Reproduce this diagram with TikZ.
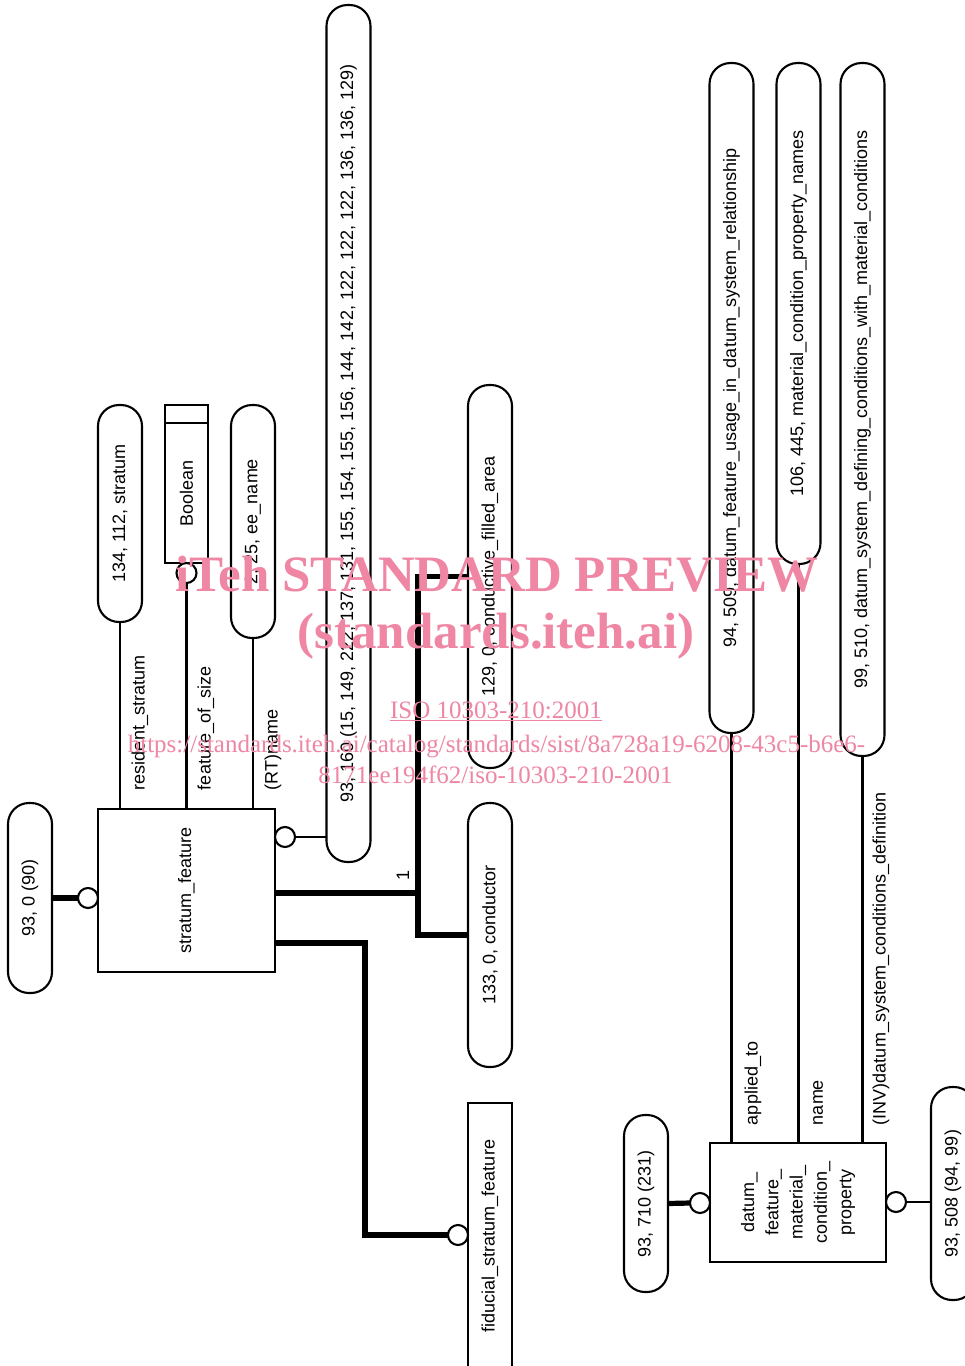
\documentclass[tikz,border=0pt]{standalone}
\usepackage{fontspec}
\setmainfont{Liberation Sans}
\newfontfamily\wmfont{Liberation Serif}
\newcommand\mainfs{\fontsize{18}{24.3}\selectfont}
\definecolor{wmpink}{RGB}{238,134,164}
\begin{document}
\begin{tikzpicture}[x=1pt,y=-1pt,
  every node/.style={inner sep=0pt, outer sep=0pt},
  lw/.style={line width=2.1pt},
  thk/.style={line width=5.2pt, line join=miter},
  pill/.style={draw, line width=2.1pt, rounded corners=21pt, rotate=90, minimum height=44pt, font=\mainfs},
  ent/.style={draw, line width=2.1pt, rotate=90, font=\mainfs},
  ring/.style={circle, draw, fill=white, line width=2.1pt, minimum size=20pt},
  lbl/.style={rotate=90, anchor=west, font=\mainfs},
  wmbig/.style={text=wmpink, anchor=base, font=\wmfont\bfseries\fontsize{51}{51}\selectfont},
  wmsmall/.style={text=wmpink, anchor=base, font=\wmfont\fontsize{25}{25}\selectfont}
]
\useasboundingbox (0,0) rectangle (965,1366);
\fill[white] (0,0) rectangle (965,1366);
\clip (0,0) rectangle (965,1366);

% left group
\node[pill, minimum width=190pt] (o90) at (30,898) {93, 0 (90)};
\node[ent, minimum width=163pt, minimum height=177pt] (sf) at (186.5,890.5) {stratum\_feature};
\node[pill, minimum width=857pt] (o160) at (348.5,433.5) {93, 160 (15, 149, 222, 137, 131, 155, 154, 155, 156, 144, 142, 122, 122, 122, 136, 136, 129)};
\node[pill, minimum width=217pt] (o112) at (120,513.5) {134, 112, stratum};
\node[ent, minimum width=158pt, minimum height=43pt] (bool) at (186.5,484) {};
\node[rotate=90, font=\mainfs] (booltxt) at (186.5,493) {Boolean};
\node[pill, minimum width=233pt] (oee) at (253,521.5) {2, 25, ee\_name};
\node[lbl] (l1) at (140,790) {resident\_stratum};
\node[lbl] (l2) at (206,790) {feature\_of\_size};
\node[lbl] (l3) at (273,790) {(RT)name};
\node[pill, minimum width=383pt] (o129) at (490,576.5) {129, 0, conductive\_filled\_area};
\node[pill, minimum width=264pt] (o133) at (490,935) {133, 0, conductor};
\node[ent, minimum width=266pt, minimum height=44pt] (fid) at (490,1236) {fiducial\_stratum\_feature};
\node[rotate=90, font=\mainfs] (one) at (403,875) {1};

\node[ring] (c1) at (88,898) {};
\node[ring] (c2) at (285,837) {};
\node[ring] (c3) at (186.5,573) {};
\node[ring] (c4) at (458,1235) {};

\draw[lw] ([yshift=-18pt]bool.north east) -- ([yshift=-18pt]bool.south east);
\draw[thk] (o90.south) -- (c1.west);
\draw[lw] (c2.east) -- (c2.east -| o160.north);
\draw[lw] (o112.west) -- (o112.west |- sf.east);
\draw[lw] (c3.south) -- (c3.south |- sf.east);
\draw[lw] (oee.west) -- (oee.west |- sf.east);
\coordinate (j1) at (418,893);
\draw[thk] (j1 -| sf.south) -- (j1);
\draw[thk] (o129.north) -| (j1) |- (o133.north);
\coordinate (j2) at (365,943);
\draw[thk] (j2 -| sf.south) -- (j2) |- (c4.west);

% right group
\node[ent, minimum width=119pt, minimum height=176pt, align=center] (dfm) at (798,1202.5) {datum\_\\feature\_\\material\_\\condition\_\\property};
\node[pill, minimum width=177pt] (o710) at (646,1203.5) {93, 710 (231)};
\node[pill, minimum width=213pt] (o508) at (953,1193.5) {93, 508 (94, 99)};
\node[pill, minimum width=670pt] (o509) at (731.5,398) {94, 509, datum\_feature\_usage\_in\_datum\_system\_relationship};
\node[pill, minimum width=501pt] (o445) at (798.5,313.5) {106, 445, material\_condition\_property\_names};
\node[pill, minimum width=693pt] (o510) at (862.5,409.5) {99, 510, datum\_system\_defining\_conditions\_with\_material\_conditions};
\node[lbl] (l4) at (753,1125) {applied\_to};
\node[lbl] (l5) at (818,1125) {name};
\node[lbl] (l6) at (881,1125) {(INV)datum\_system\_conditions\_definition};
\node[ring] (c5) at (700,1203) {};
\node[ring] (c6) at (896,1202) {};

\draw[thk] (o710.south) -- (c5.west);
\draw[lw] (c6.east) -- (c6.east -| o508.north);
\draw[lw] (o509.west) -- (o509.west |- dfm.east);
\draw[lw] (o445.west) -- (o445.west |- dfm.east);
\draw[lw] (o510.west) -- (o510.west |- dfm.east);

% watermark
\node[wmbig] (wm1) at (497,591) {iTeh STANDARD PREVIEW};
\node[wmbig] (wm2) at (496,648) {(standards.iteh.ai)};
\node[wmsmall] (wm3) at (496,718) {\underline{ISO 10303-210:2001}};
\node[wmsmall] (wm4) at (496.5,752) {https://standards.iteh.ai/catalog/standards/sist/8a728a19-6208-43c5-b6e6-};
\node[wmsmall] (wm5) at (495.5,783) {8171ee194f62/iso-10303-210-2001};
\end{tikzpicture}
\end{document}
